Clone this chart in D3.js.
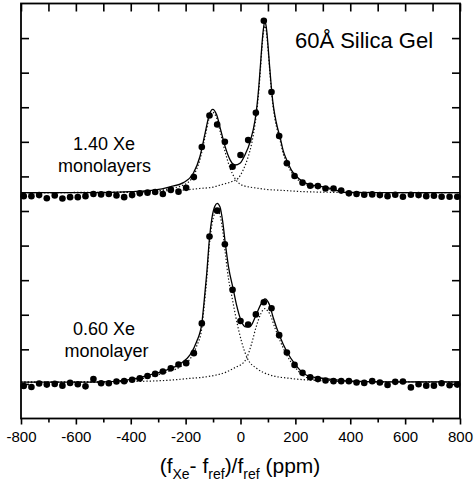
<!DOCTYPE html>
<html>
<head>
<meta charset="utf-8">
<script src="https://cdn.jsdelivr.net/npm/d3@7"></script>
<style>
  html, body { margin: 0; padding: 0; background: #fff; }
  svg { display: block; font-family: "Liberation Sans", Arial, sans-serif; }
</style>
</head>
<body>
<div id="chart"></div>
<script>
// chemical shift of each measured point (ppm)
const shiftPpm = [-790, -762, -734, -706, -677, -649, -621, -593, -565, -536, -508, -480, -452, -424,
  -395, -367, -339, -311, -283, -254, -226, -198, -170, -141, -113, -85, -57, -29, 0,
  28, 56, 85, 113, 141, 169, 197, 226, 254, 282, 310, 339, 367, 395, 423, 451, 480,
  508, 536, 564, 592, 621, 649, 677, 705, 733, 762, 790]

// 1.40 Xe monolayers (offset upwards)
const upperSignal = [6.43, 6.43, 6.46, 6.37, 6.45, 6.36, 6.40, 6.40, 6.43, 6.49, 6.48, 6.49, 6.45, 6.40,
  6.46, 6.51, 6.53, 6.55, 6.49, 6.61, 6.56, 6.67, 6.98, 7.85, 8.76, 8.50, 8.00, 7.28, 7.62,
  8.05, 8.84, 11.50, 9.44, 8.17, 7.38, 7.01, 6.82, 6.73, 6.72, 6.65, 6.65, 6.59, 6.51, 6.49, 6.47, 6.48,
  6.46, 6.43, 6.47, 6.41, 6.47, 6.46, 6.43, 6.44, 6.41, 6.41, 6.41]

// 0.60 Xe monolayer
const lowerSignal = [0.94, 0.91, 1.01, 0.98, 1.00, 0.95, 1.03, 0.99, 0.93, 1.14, 1.02, 1.02, 1.07, 1.08,
  1.12, 1.16, 1.23, 1.29, 1.36, 1.45, 1.56, 1.60, 1.89, 2.75, 5.26, 6.01, 5.04, 3.72, 2.82,
  2.72, 3.01, 3.36, 3.19, 2.41, 1.91, 1.55, 1.32, 1.19, 1.14, 1.10, 1.08, 1.08, 1.08, 1.04, 1.03, 1.08,
  1.04, 0.97, 1.06, 1.07, 0.90, 0.99, 0.95, 0.95, 1.02, 0.96, 0.98]

// fitted curves, [ppm, intensity]
const upperFit = [[-800, 6.53], [-540, 6.53], [-400, 6.56], [-311, 6.61], [-257, 6.70], [-208, 6.82],
  [-172, 7.09], [-148, 7.57], [-129, 8.25], [-114, 8.78], [-101, 8.94], [-87, 8.78], [-72, 8.34],
  [-56, 7.86], [-38, 7.48], [-20, 7.33], [-2, 7.38], [16, 7.62], [35, 8.00], [53, 8.63], [60, 9.04],
  [67, 9.62], [73, 10.25], [78, 10.80], [83, 11.23], [87, 11.44], [89, 11.47], [92, 11.41], [96, 11.18],
  [101, 10.71], [106, 10.19], [112, 9.62], [118, 9.15], [125, 8.78], [135, 8.40], [144, 8.14],
  [155, 7.76], [168, 7.48], [185, 7.19], [199, 7.04], [229, 6.84], [260, 6.75], [285, 6.72],
  [340, 6.63], [375, 6.54], [450, 6.53], [800, 6.53]]

const upperLeftPart = [[-800, 6.53], [-540, 6.53], [-400, 6.54], [-311, 6.57], [-257, 6.65], [-208, 6.75],
  [-172, 7.01], [-148, 7.48], [-129, 8.15], [-114, 8.68], [-101, 8.85], [-87, 8.69], [-72, 8.23],
  [-56, 7.71], [-38, 7.24], [-20, 6.94], [-2, 6.78], [16, 6.72], [35, 6.69], [60, 6.66], [100, 6.62],
  [144, 6.60], [229, 6.56], [350, 6.54], [800, 6.53]]

const upperRightPart = [[-800, 6.53], [-400, 6.55], [-257, 6.59], [-200, 6.61], [-150, 6.65], [-100, 6.69],
  [-75, 6.75], [-32, 6.85], [-8, 6.95], [10, 7.19], [28, 7.57], [41, 7.96], [53, 8.52], [60, 8.92],
  [67, 9.50], [73, 10.14], [78, 10.69], [83, 11.12], [87, 11.32], [89, 11.35], [92, 11.29], [96, 11.06],
  [101, 10.63], [106, 10.11], [112, 9.53], [118, 9.07], [125, 8.69], [135, 8.31], [144, 8.05],
  [155, 7.68], [168, 7.39], [185, 7.13], [199, 6.98], [229, 6.80], [260, 6.71], [285, 6.68],
  [340, 6.61], [375, 6.54], [800, 6.53]]

const lowerFit = [[-800, 1.05], [-530, 1.05], [-390, 1.14], [-330, 1.26], [-270, 1.40], [-220, 1.58],
  [-184, 1.84], [-160, 2.22], [-141, 2.75], [-133, 3.35], [-123, 4.20], [-113, 5.22], [-104, 5.80],
  [-94, 6.13], [-85, 6.22], [-75, 6.12], [-65, 5.70], [-55, 5.04], [-44, 4.40], [-26, 3.72], [-14, 3.27],
  [2, 2.83], [20, 2.65], [35, 2.66], [56, 2.98], [74, 3.30], [89, 3.46], [105, 3.30], [120, 2.90],
  [141, 2.42], [171, 1.90], [200, 1.56], [229, 1.31], [257, 1.21], [304, 1.16], [388, 1.09],
  [534, 1.06], [800, 1.06]]

const lowerLeftPart = [[-800, 1.05], [-530, 1.05], [-390, 1.11], [-330, 1.21], [-270, 1.34], [-220, 1.49],
  [-184, 1.72], [-160, 2.09], [-141, 2.61], [-133, 3.20], [-123, 4.04], [-113, 5.05], [-104, 5.61],
  [-94, 5.93], [-85, 6.01], [-75, 5.88], [-65, 5.45], [-55, 4.76], [-44, 4.05], [-32, 3.55], [-20, 3.05],
  [-8, 2.60], [4, 2.22], [25, 1.74], [59, 1.45], [107, 1.26], [180, 1.16], [253, 1.11], [400, 1.07],
  [800, 1.05]]

const lowerRightPart = [[-800, 1.05], [-400, 1.07], [-257, 1.11], [-184, 1.16], [-120, 1.21], [-50, 1.35],
  [-13, 1.50], [0, 1.55], [22, 1.74], [40, 2.15], [56, 2.62], [74, 3.03], [83, 3.15], [89, 3.18],
  [97, 3.13], [107, 3.02], [126, 2.61], [144, 2.25], [171, 1.80], [200, 1.47], [229, 1.24],
  [257, 1.15], [304, 1.12], [388, 1.07], [534, 1.06], [800, 1.06]]

const xMajorTicks = [-800, -600, -400, -200, 0, 200, 400, 600, 800]
const xMinorTicks = [-700, -500, -300, -100, 100, 300, 500, 700]
const xAllTicks = [-800, -700, -600, -500, -400, -300, -200, -100, 0, 100, 200, 300, 400, 500, 600, 700, 800]
const yTicks = [1, 2, 3, 4, 5, 6, 7, 8, 9, 10, 11]

const width = 474
const height = 484
const margin = { top: 3.5, right: 14, bottom: 65.5, left: 21 }
const innerW = width - margin.left - margin.right
const innerH = height - margin.top - margin.bottom

const x = d3.scaleLinear().domain([-800, 800]).range([margin.left, margin.left + innerW])
const y = d3.scaleLinear().domain([0, 12]).range([margin.top + innerH, margin.top])

const svg = d3.select('#chart').append('svg')
  .attr('width', width)
  .attr('height', height)
  .attr('viewBox', `0 0 ${width} ${height}`)

const line = d3.line()
  .x((d) => x(d[0]))
  .y((d) => y(d[1]))
  .curve(d3.curveMonotoneX)

// component fits (dotted)
for (const part of [upperLeftPart, upperRightPart, lowerLeftPart, lowerRightPart]) {
  svg.append('path')
    .datum(part)
    .attr('d', line)
    .attr('fill', 'none')
    .attr('stroke', '#111')
    .attr('stroke-width', 1.2)
    .attr('stroke-dasharray', '1.3,2')
}

// total fits
for (const fit of [upperFit, lowerFit]) {
  svg.append('path')
    .datum(fit)
    .attr('d', line)
    .attr('fill', 'none')
    .attr('stroke', '#000')
    .attr('stroke-width', 1.3)
}

// data points
for (const series of [upperSignal, lowerSignal]) {
  svg.append('g')
    .selectAll('circle')
    .data(series.map((v, i) => [shiftPpm[i], v]))
    .join('circle')
    .attr('cx', (d) => x(d[0]))
    .attr('cy', (d) => y(d[1]))
    .attr('r', 3.3)
    .attr('fill', '#000')
}

// axes
const fmt = (d) => String(d)
const bottom = margin.top + innerH
const styleAxis = (g) => {
  g.select('.domain').remove()
  g.selectAll('.tick line').attr('stroke', '#000').attr('stroke-width', 1.6)
}

svg.append('g')
  .attr('transform', `translate(0,${bottom})`)
  .call(d3.axisBottom(x).tickValues(xMajorTicks).tickSize(6).tickPadding(7).tickFormat(fmt))
  .call(styleAxis)
  .call((g) => g.selectAll('text').attr('font-size', 15).attr('fill', '#000')
    .attr('font-family', '"Liberation Sans", Arial, sans-serif'))

svg.append('g')
  .attr('transform', `translate(0,${bottom})`)
  .call(d3.axisBottom(x).tickValues(xMinorTicks).tickSize(4).tickFormat(''))
  .call(styleAxis)

svg.append('g')
  .attr('transform', `translate(0,${margin.top})`)
  .call(d3.axisTop(x).tickValues(xAllTicks).tickSize(-8).tickFormat(''))
  .call(styleAxis)

svg.append('g')
  .attr('transform', `translate(${margin.left},0)`)
  .call(d3.axisLeft(y).tickValues(yTicks).tickSize(-8).tickFormat(''))
  .call(styleAxis)

svg.append('g')
  .attr('transform', `translate(${margin.left + innerW},0)`)
  .call(d3.axisRight(y).tickValues(yTicks).tickSize(-8).tickFormat(''))
  .call(styleAxis)

svg.append('rect')
  .attr('x', margin.left)
  .attr('y', margin.top)
  .attr('width', innerW)
  .attr('height', innerH)
  .attr('fill', 'none')
  .attr('stroke', '#000')
  .attr('stroke-width', 1.8)

// axis title
const title = svg.append('text')
  .attr('x', 240)
  .attr('y', 473)
  .attr('text-anchor', 'middle')
  .attr('font-size', 21)
  .attr('fill', '#000')
title.append('tspan').text('(f')
title.append('tspan').attr('font-size', 14).attr('dy', 6).text('Xe')
title.append('tspan').attr('dy', -6).text('- f')
title.append('tspan').attr('font-size', 14).attr('dy', 6).text('ref')
title.append('tspan').attr('dy', -6).text(')/f')
title.append('tspan').attr('font-size', 14).attr('dy', 6).text('ref')
title.append('tspan').attr('dy', -6).text(' (ppm)')

// annotations
svg.append('text')
  .attr('x', 364).attr('y', 48)
  .attr('text-anchor', 'middle')
  .attr('font-size', 22)
  .text('60Å Silica Gel')

const labels = [
  { text: '1.40 Xe', x: 104, y: 150 },
  { text: 'monolayers', x: 104.5, y: 172 },
  { text: '0.60 Xe', x: 104, y: 335 },
  { text: 'monolayer', x: 106.5, y: 357 },
]
svg.append('g')
  .selectAll('text')
  .data(labels)
  .join('text')
  .attr('x', (d) => d.x)
  .attr('y', (d) => d.y)
  .attr('text-anchor', 'middle')
  .attr('font-size', 18)
  .text((d) => d.text)
</script>
</body>
</html>
